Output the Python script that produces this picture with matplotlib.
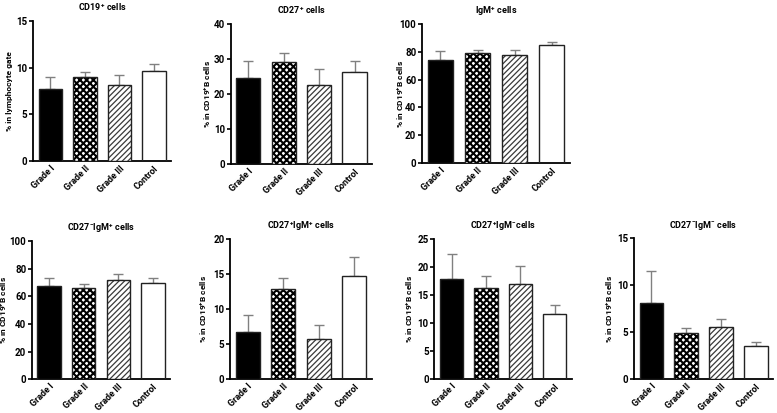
import numpy as np
import matplotlib.pyplot as plt

plt.rcParams['font.family'] = ['Roboto', 'DejaVu Sans']
plt.rcParams['font.weight'] = 'bold'
plt.rcParams['axes.titleweight'] = 'bold'
plt.rcParams['axes.labelweight'] = 'bold'
plt.rcParams['mathtext.fontset'] = 'custom'
plt.rcParams['mathtext.rm'] = 'Roboto:bold'
plt.rcParams['mathtext.it'] = 'Roboto:bold'
plt.rcParams['mathtext.bf'] = 'Roboto:bold'
plt.rcParams['mathtext.default'] = 'regular'

groups = ['Grade I', 'Grade II', 'Grade III', 'Control']

titles = ['CD19$^{+}$ cells', 'CD27$^{+}$ cells', 'IgM$^{+}$ cells',
          'CD27$^{-}$IgM$^{+}$ cells', 'CD27$^{+}$IgM$^{+}$ cells',
          'CD27$^{+}$IgM$^{-}$cells', 'CD27$^{-}$IgM$^{-}$ cells']
ylabels = ['% in lymphocyte gate'] + ['% in CD19$^{+}$B cells'] * 6

means = [
    [7.7, 9.0, 8.1, 9.65],
    [24.7, 29.2, 22.7, 26.4],
    [74.1, 79.1, 77.7, 84.9],
    [67.2, 66.3, 71.8, 69.6],
    [6.8, 12.9, 5.8, 14.8],
    [17.9, 16.2, 17.0, 11.6],
    [8.1, 4.85, 5.5, 3.5],
]
upper = [
    [9.05, 9.57, 9.2, 10.4],
    [29.4, 31.8, 27.0, 29.5],
    [80.5, 81.3, 81.1, 86.8],
    [73.5, 68.9, 76.4, 73.0],
    [9.1, 14.4, 7.7, 17.4],
    [22.3, 18.4, 20.2, 13.3],
    [11.5, 5.4, 6.35, 3.9],
]
ymax = [15, 40, 100, 100, 20, 25, 15]
ystep = [5, 10, 20, 20, 5, 5, 5]

# axes boxes in figure fractions [left, bottom, width, height]
boxes = [
    [0.0425, 0.610, 0.178, 0.339],
    [0.297, 0.603, 0.182, 0.339],
    [0.543, 0.605, 0.191, 0.337],
    [0.041, 0.082, 0.178, 0.334],
    [0.296, 0.082, 0.183, 0.339],
    [0.559, 0.082, 0.177, 0.339],
    [0.816, 0.082, 0.179, 0.342],
]
# gap in pixels between y axis and the y label
label_gap = [20, 18, 16, 23, 21, 19, 19]

faces = ['black', 'white', 'white', 'white']
hatches = [None, 'xxxxx', '//////', None]
hatch_cols = ['black', 'black', '#3a3a3a', 'black']
hatch_lw = [1.0, 1.5, 0.9, 1.0]

fig = plt.figure(figsize=(7.77, 4.13), dpi=100)
x = np.arange(len(groups))

for k in range(7):
    ax = fig.add_axes(boxes[k])
    m = np.array(means[k])
    err = np.array(upper[k]) - m
    ax.errorbar(x, m, yerr=[np.zeros_like(err), err], fmt='none',
                ecolor='#808080', elinewidth=1.0, capsize=3.5, capthick=1.0, zorder=1)
    ax.bar(x, m, width=0.68, color=faces, edgecolor='none', zorder=2)
    for i in range(len(groups)):
        if hatches[i]:
            plt.rcParams['hatch.linewidth'] = hatch_lw[i]
            ax.bar(x[i], m[i], width=0.68, color='white', hatch=hatches[i],
                   edgecolor=hatch_cols[i], linewidth=0, zorder=3)
    ax.bar(x, m, width=0.68, fill=False, edgecolor='#222222', linewidth=1.0, zorder=4)

    ax.set_xlim(-0.5, 3.5)
    ax.set_ylim(0, ymax[k])
    ax.set_yticks(np.arange(0, ymax[k] + 0.1, ystep[k]))
    ax.set_xticks(x)
    ax.set_xticklabels(groups, rotation=45, ha='right', rotation_mode='anchor')
    for s in ['top', 'right']:
        ax.spines[s].set_visible(False)
    for s in ['left', 'bottom']:
        ax.spines[s].set_linewidth(1.3)
    ax.tick_params(axis='y', length=3, width=1.2, labelsize=7, pad=1)
    ax.tick_params(axis='x', length=0, labelsize=6.5, pad=2)
    ax.set_ylabel(ylabels[k], fontsize=6)
    ax.yaxis.set_label_coords(-label_gap[k] / (boxes[k][2] * 777), 0.5)
    ax.set_title(titles[k], fontsize=6.5, pad=7)

fig.savefig('out.png', dpi=100)
